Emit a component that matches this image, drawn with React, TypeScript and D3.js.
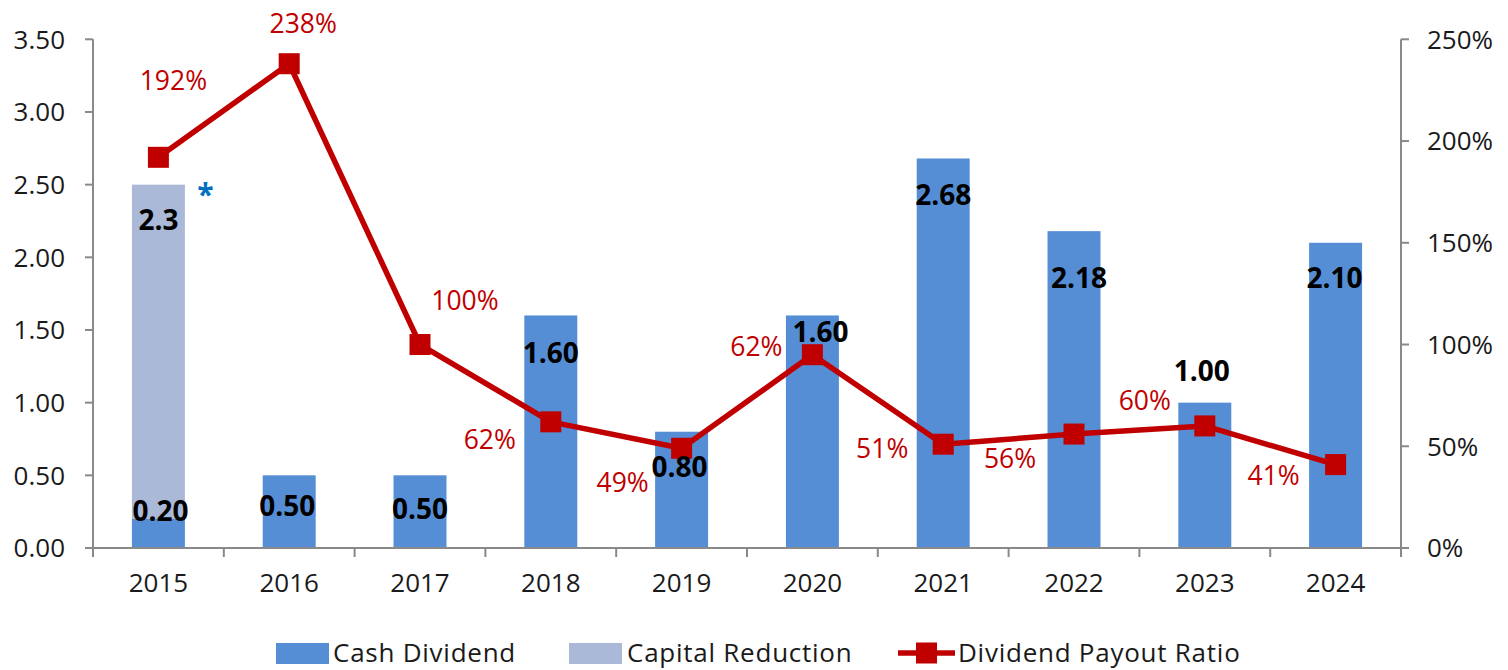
import React from "react";
import * as d3 from "d3";

const years = ["2015", "2016", "2017", "2018", "2019", "2020", "2021", "2022", "2023", "2024"];
const cashDividend = [0.2, 0.5, 0.5, 1.6, 0.8, 1.6, 2.68, 2.18, 1.0, 2.1];
const capitalReduction = [2.3, 0, 0, 0, 0, 0, 0, 0, 0, 0];
const cashLabels = ["0.20", "0.50", "0.50", "1.60", "0.80", "1.60", "2.68", "2.18", "1.00", "2.10"];
const capitalLabels = ["2.3", "", "", "", "", "", "", "", "", ""];
const payoutRatio = [192, 238, 100, 62, 49, 95, 51, 56, 60, 41];
const payoutLabels = ["192%", "238%", "100%", "62%", "49%", "62%", "51%", "56%", "60%", "41%"];
const leftTicks = [0, 0.5, 1, 1.5, 2, 2.5, 3, 3.5];
const rightTicks = [0, 50, 100, 150, 200, 250];
const legendNames = ["Cash Dividend", "Capital Reduction", "Dividend Payout Ratio"];

// label placement (layout only)
const ratioLabelOffsets: [number, number][] = [
  [15, -77], [14, -40], [45, -44], [-61, 18], [-59, 34],
  [-56, -8], [-61, 4], [-64, 24], [-60, -25], [-62, 11],
];
const cashLabelOffsets: [number, number][] = [
  [2, -8], [-2, 31], [0, 34], [0, 37], [-2, 35],
  [8, 16], [0, 36], [5, 47], [-3, -32], [-1, 35],
];

const W = 1508, H = 670;
const left = 93, right = 1401, top = 39.3, bottom = 548;
const BLUE = "#558ED5", LIGHT = "#AAB9D7", RED = "#C00000", AXIS = "#898989";
const FONT = "'Open Sans', 'Noto Sans', sans-serif";

export default function App() {
  const x = d3.scaleBand<string>().domain(years).range([left, right]).padding(0);
  const step = x.step();
  const cx = (i: number) => (x(years[i]) as number) + step / 2;
  const barW = step * 0.405;
  const yL = d3.scaleLinear().domain([0, 3.5]).range([bottom, top]);
  const yR = d3.scaleLinear().domain([0, 250]).range([bottom, top]);
  const line = d3.line<number>().x((_, i) => cx(i)).y((v) => yR(v));

  const tickFs = 26;
  const pctFs = 26.5;
  const barFs = 28;
  const legY = 653;

  return (
    <svg width={W} height={H} style={{ position: "absolute", left: 0, top: 0, background: "#fff" }} fontFamily={FONT}>
      <rect x={0} y={0} width={W} height={H} fill="#fff" />
      {/* bars */}
      {years.map((yr, i) => (
        <g key={yr}>
          <rect x={cx(i) - barW / 2} y={yL(cashDividend[i])} width={barW} height={bottom - yL(cashDividend[i])} fill={BLUE} />
          {capitalReduction[i] > 0 && (
            <rect
              x={cx(i) - barW / 2}
              y={yL(cashDividend[i] + capitalReduction[i])}
              width={barW}
              height={yL(cashDividend[i]) - yL(cashDividend[i] + capitalReduction[i])}
              fill={LIGHT}
            />
          )}
        </g>
      ))}
      {/* axes */}
      <g stroke={AXIS} strokeWidth={2} fill="none">
        <line x1={left} y1={top} x2={left} y2={bottom} />
        <line x1={right} y1={top} x2={right} y2={bottom} />
        <line x1={left - 8} y1={bottom} x2={right + 8} y2={bottom} />
        {leftTicks.map((t) => (
          <line key={"lt" + t} x1={left - 8} x2={left} y1={yL(t)} y2={yL(t)} />
        ))}
        {rightTicks.map((t) => (
          <line key={"rt" + t} x1={right} x2={right + 8} y1={yR(t)} y2={yR(t)} />
        ))}
        {years.map((yr) => (
          <line key={"xt" + yr} x1={x(yr) as number} x2={x(yr) as number} y1={bottom} y2={bottom + 9} />
        ))}
        <line x1={right} x2={right} y1={bottom} y2={bottom + 9} />
      </g>
      {/* tick labels */}
      <g fill="#1a1a1a" fontSize={tickFs}>
        {leftTicks.map((t) => (
          <text key={"ltl" + t} x={left - 28} y={yL(t)} dy="0.36em" textAnchor="end">{t.toFixed(2)}</text>
        ))}
        {rightTicks.map((t) => (
          <text key={"rtl" + t} x={right + 26} y={yR(t)} dy="0.36em" textAnchor="start">{t + "%"}</text>
        ))}
        {years.map((yr, i) => (
          <text key={"xl" + yr} x={cx(i)} y={583} dy="0.36em" textAnchor="middle">{yr}</text>
        ))}
      </g>
      {/* line */}
      <path d={line(payoutRatio) as string} fill="none" stroke={RED} strokeWidth={5.5} strokeLinejoin="round" />
      {payoutRatio.map((v, i) => (
        <rect key={"m" + i} x={cx(i) - 10.5} y={yR(v) - 10.5} width={21} height={21} fill={RED} />
      ))}
      {/* bar labels */}
      <g fontWeight="bold" fontSize={barFs} fill="#000" textAnchor="middle">
        {years.map((yr, i) => (
          <text key={"bl" + yr} x={cx(i) + cashLabelOffsets[i][0]} y={yL(cashDividend[i]) + cashLabelOffsets[i][1]} dy="0.36em">
            {cashLabels[i]}
          </text>
        ))}
        {years.map((yr, i) =>
          capitalLabels[i] ? (
            <text key={"cl" + yr} x={cx(i)} y={yL(cashDividend[i] + capitalReduction[i]) + 35} dy="0.36em">
              {capitalLabels[i]}
            </text>
          ) : null
        )}
      </g>
      <text x={cx(0) + 47} y={190} dy="0.5em" fontSize={30} fontWeight="bold" fill="#0070C0" textAnchor="middle">*</text>
      {/* ratio labels */}
      <g fontSize={pctFs} fill={RED} textAnchor="middle">
        {payoutRatio.map((v, i) => (
          <text key={"pl" + i} x={cx(i) + ratioLabelOffsets[i][0]} y={yR(v) + ratioLabelOffsets[i][1]} dy="0.36em">
            {payoutLabels[i]}
          </text>
        ))}
      </g>
      {/* legend */}
      <g fontSize={26} fill="#1a1a1a" letterSpacing={0.75}>
        <rect x={276} y={legY - 10} width={53} height={21} fill={BLUE} />
        <text x={333} y={legY} dy="0.36em">{legendNames[0]}</text>
        <rect x={569} y={legY - 10} width={53} height={21} fill={LIGHT} />
        <text x={627} y={legY} dy="0.36em">{legendNames[1]}</text>
        <line x1={898} x2={955} y1={legY} y2={legY} stroke={RED} strokeWidth={5.5} />
        <rect x={916} y={legY - 10.5} width={21} height={21} fill={RED} />
        <text x={958} y={legY} dy="0.36em">{legendNames[2]}</text>
      </g>
    </svg>
  );
}
